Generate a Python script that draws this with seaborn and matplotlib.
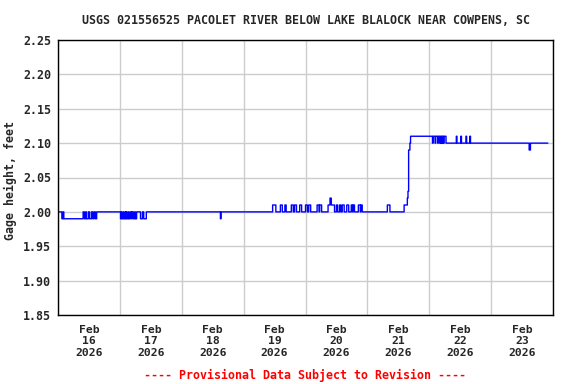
import pandas as pd
import numpy as np
import matplotlib
matplotlib.use("Agg")
import matplotlib.pyplot as plt
import matplotlib.dates as mdates
import matplotlib.ticker as mticker
import seaborn as sns

# Gage height: times where the level changes, and the new level
change_time = [
    "2026-02-15 12:00", "2026-02-15 13:30", "2026-02-15 14:00", "2026-02-15 14:15",
    "2026-02-15 21:45", "2026-02-15 22:15", "2026-02-15 22:45", "2026-02-15 23:00",
    "2026-02-15 23:45", "2026-02-16 00:15", "2026-02-16 01:00", "2026-02-16 01:30",
    "2026-02-16 02:00", "2026-02-16 02:30", "2026-02-16 03:00",
    "2026-02-16 12:15", "2026-02-16 12:30", "2026-02-16 12:45", "2026-02-16 13:15",
    "2026-02-16 13:30", "2026-02-16 14:00", "2026-02-16 14:15", "2026-02-16 14:30",
    "2026-02-16 14:45", "2026-02-16 15:15", "2026-02-16 15:30", "2026-02-16 16:00",
    "2026-02-16 16:30", "2026-02-16 16:45", "2026-02-16 17:15", "2026-02-16 17:45",
    "2026-02-16 18:00", "2026-02-16 18:30", "2026-02-16 20:00", "2026-02-16 20:45",
    "2026-02-16 21:15", "2026-02-16 22:15",
    "2026-02-18 03:00", "2026-02-18 03:15",
    "2026-02-18 23:15", "2026-02-19 00:30", "2026-02-19 02:15", "2026-02-19 03:00",
    "2026-02-19 04:00", "2026-02-19 04:30", "2026-02-19 06:30", "2026-02-19 07:15",
    "2026-02-19 07:45", "2026-02-19 08:30", "2026-02-19 09:45", "2026-02-19 10:30",
    "2026-02-19 12:00", "2026-02-19 12:45", "2026-02-19 13:15", "2026-02-19 14:00",
    "2026-02-19 16:30", "2026-02-19 17:15", "2026-02-19 17:30", "2026-02-19 18:15",
    "2026-02-19 20:45", "2026-02-19 21:30", "2026-02-19 22:00", "2026-02-19 23:15",
    "2026-02-20 00:00", "2026-02-20 00:30", "2026-02-20 01:15", "2026-02-20 01:45",
    "2026-02-20 02:15", "2026-02-20 03:00", "2026-02-20 04:00", "2026-02-20 04:45",
    "2026-02-20 05:45", "2026-02-20 06:15", "2026-02-20 06:30", "2026-02-20 07:00",
    "2026-02-20 08:30", "2026-02-20 09:15", "2026-02-20 09:30", "2026-02-20 10:00",
    "2026-02-20 19:45", "2026-02-20 20:45",
    "2026-02-21 02:15", "2026-02-21 03:30", "2026-02-21 03:45", "2026-02-21 04:00",
    "2026-02-21 04:30", "2026-02-21 04:45",
    "2026-02-21 13:15", "2026-02-21 13:30", "2026-02-21 14:15", "2026-02-21 14:30",
    "2026-02-21 15:15", "2026-02-21 15:30", "2026-02-21 16:00", "2026-02-21 16:15",
    "2026-02-21 16:30", "2026-02-21 16:45", "2026-02-21 17:00", "2026-02-21 17:15",
    "2026-02-21 17:30", "2026-02-21 17:45", "2026-02-21 18:30",
    "2026-02-21 22:30", "2026-02-21 22:45", "2026-02-22 00:15", "2026-02-22 00:30",
    "2026-02-22 02:15", "2026-02-22 02:30", "2026-02-22 03:45", "2026-02-22 04:00",
    "2026-02-23 02:45", "2026-02-23 03:15",
]
change_level = [
    2.00, 1.99, 2.00, 1.99,
    2.00, 1.99, 2.00, 1.99,
    2.00, 1.99, 2.00, 1.99,
    2.00, 1.99, 2.00,
    1.99, 2.00, 1.99, 2.00,
    1.99, 2.00, 1.99, 2.00,
    1.99, 2.00, 1.99, 2.00,
    1.99, 2.00, 1.99, 2.00,
    1.99, 2.00, 1.99, 2.00,
    1.99, 2.00,
    1.99, 2.00,
    2.01, 2.00, 2.01, 2.00,
    2.01, 2.00, 2.01, 2.00,
    2.01, 2.00, 2.01, 2.00,
    2.01, 2.00, 2.01, 2.00,
    2.01, 2.00, 2.01, 2.00,
    2.01, 2.02, 2.01, 2.00,
    2.01, 2.00, 2.01, 2.00,
    2.01, 2.00, 2.01, 2.00,
    2.01, 2.00, 2.01, 2.00,
    2.01, 2.00, 2.01, 2.00,
    2.01, 2.00,
    2.01, 2.02, 2.03, 2.09,
    2.10, 2.11,
    2.10, 2.11, 2.10, 2.11,
    2.10, 2.11, 2.10, 2.11,
    2.10, 2.11, 2.10, 2.11,
    2.10, 2.11, 2.10,
    2.11, 2.10, 2.11, 2.10,
    2.11, 2.10, 2.11, 2.10,
    2.09, 2.10,
]
series_end = "2026-02-23 10:00"

day_ticks = ["2026-02-16", "2026-02-17", "2026-02-18", "2026-02-19",
             "2026-02-20", "2026-02-21", "2026-02-22", "2026-02-23"]

title = "USGS 021556525 PACOLET RIVER BELOW LAKE BLALOCK NEAR COWPENS, SC"
footer = "---- Provisional Data Subject to Revision ----"

# expand the change points to a 15-minute record
steps = pd.Series(change_level, index=pd.to_datetime(change_time))
idx = pd.date_range(change_time[0], series_end, freq="15min")
gage = steps.reindex(idx, method="ffill")
df = pd.DataFrame({"time": idx, "gage_height": gage.values})

sns.set_theme(style="white")
plt.rcParams["font.family"] = ["DejaVu Sans Mono"]
plt.rcParams["font.weight"] = "bold"

fig = plt.figure(figsize=(5.76, 3.84), dpi=100)
ax = fig.add_axes([58 / 576, 1 - 315 / 384, (553 - 58) / 576, (315 - 40) / 384])

sns.lineplot(data=df, x="time", y="gage_height", drawstyle="steps-post",
             color="#0000ff", linewidth=1.0, ax=ax)

ax.set_xlim(pd.Timestamp("2026-02-15 12:00"), pd.Timestamp("2026-02-23 12:00"))
ax.set_ylim(1.85, 2.25)
ax.set_yticks(np.arange(1.85, 2.2501, 0.05))
ax.yaxis.set_major_formatter(mticker.FormatStrFormatter("%.2f"))

ax.set_xticks(pd.to_datetime(day_ticks))
ax.xaxis.set_major_formatter(mdates.DateFormatter("%b\n%d\n%Y"))
ax.xaxis.set_minor_locator(mdates.HourLocator(byhour=12))

ax.grid(False)
ax.grid(True, axis="x", which="minor", color="#cccccc", linewidth=1.0)
ax.grid(True, axis="y", which="major", color="#cccccc", linewidth=1.0)
ax.set_axisbelow(True)

ax.tick_params(axis="x", which="both", length=0, pad=7, labelsize=8.2)
ax.tick_params(axis="y", length=0, pad=5, labelsize=8.4)
for lbl in ax.get_xticklabels():
    lbl.set_fontweight("bold")
for lbl in ax.get_yticklabels():
    lbl.set_fontweight("bold")

for s in ax.spines.values():
    s.set_color("black")
    s.set_linewidth(1.0)

ax.set_xlabel("")
ax.set_ylabel("Gage height, feet", fontsize=8.4, fontweight="bold")
ax.yaxis.set_label_coords(-0.082, 0.49)

fig.text(305.5 / 576, 1 - 20 / 384, title, ha="center", va="center",
         fontsize=8.4, fontweight="bold")
fig.text(305.5 / 576, 1 - 375 / 384, footer, ha="center", va="center",
         fontsize=8.4, fontweight="bold", color="#ff0000")

fig.savefig("out.png", dpi=100)
plt.close(fig)
